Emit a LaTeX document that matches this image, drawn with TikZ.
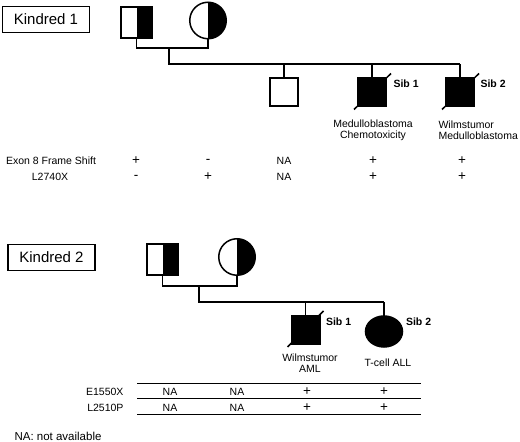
\documentclass[tikz,border=0pt]{standalone}
\usepackage{fontspec}
\setmainfont{Liberation Sans}
\usetikzlibrary{positioning, shapes.geometric, calc}

\begin{document}
\begin{tikzpicture}[x=1pt, y=1pt, every node/.style={font=\fontsize{10.5}{11.5}\selectfont},
    kinbox/.style={draw, line width=1.5pt, minimum width=87pt, minimum height=26pt, inner sep=0pt, font=\fontsize{15}{17}\selectfont},
    parentsq/.style={draw, line width=2pt, minimum size=31pt, inner sep=0pt, outer sep=0pt},
    parentci/.style={draw, circle, line width=1.5pt, minimum size=36.5pt, inner sep=0pt, outer sep=0pt},
    childsq/.style={draw, line width=2pt, minimum size=28pt, inner sep=0pt, outer sep=0pt},
    childel/.style={draw, fill, ellipse, line width=1.5pt, minimum width=37pt, minimum height=31pt, inner sep=0pt, outer sep=0pt},
    pedline/.style={line width=1.3pt},
    slash/.style={line width=1.5pt},
    siblab/.style={anchor=west, font=\fontsize{10.5}{12}\selectfont\bfseries},
    sign/.style={font=\fontsize{13.5}{14}\selectfont},
    tabline/.style={line width=1pt}]
    \useasboundingbox (0,0) rectangle (520,442);

    % Kindred 1: parents
    \node[kinbox] (kin1) at (46,422.5) {Kindred 1};
    \node[parentsq] (fa1) at (136.5,419) {};
    \fill (fa1.north) rectangle (fa1.south east);
    \node[parentci] (mo1) at (208,421.5) {};
    \fill (mo1.south) arc[start angle=-90, end angle=90, radius=18.25pt] -- cycle;

    % Kindred 1: children
    \node[childsq] (ch1) at (284,349.5) {};
    \node[childsq, fill] (sb11) at (372,349.5) {};
    \node[childsq, fill] (sb12) at (460,349.5) {};
    \coordinate (mar1) at (169,394);
    \coordinate (sibl1) at (169,378);
    \draw[pedline] (fa1.south) |- (mar1) -| (mo1.south);
    \draw[pedline] (mar1) -- (sibl1) -- (sibl1 -| sb12.north);
    \foreach \c in {ch1, sb11, sb12}
        \draw[pedline] (\c.north) -- (\c.north |- sibl1);
    \foreach \c in {sb11, sb12}
        \draw[slash] ($(\c.center)+(-18,-17)$) -- ($(\c.center)+(19,19)$);
    \node[siblab] (lb11) at ($(sb11.east)+(4,8.5)$) {Sib 1};
    \node[siblab] (lb12) at ($(sb12.east)+(3,8.5)$) {Sib 2};
    \node[align=center] (dx11) at (373,311.5) {Medulloblastoma\\Chemotoxicity};
    \node[align=left, anchor=west] (dx12) at (435,311.5) {Wilmstumor\\Medulloblastoma};

    % Kindred 1: mutations
    \node (r1a) at (51,281) {Exon 8 Frame Shift};
    \node (r1b) at (50,265) {L2740X};
    \foreach \x/\a/\b [count=\i] in {136/+/-, 208/-/+, 373/+/+, 462/+/+} {
        \node[sign] (va\i) at (\x,281) {\a};
        \node[sign] (vb\i) at (\x,265) {\b};
    }
    \node (va0) at (284,281) {NA};
    \node (vb0) at (284,265) {NA};

    % Kindred 2: parents
    \node[kinbox] (kin2) at (51.5,184.5) {Kindred 2};
    \node[parentsq] (fa2) at (162.5,182.5) {};
    \fill (fa2.north) rectangle (fa2.south east);
    \node[parentci] (mo2) at (237,185) {};
    \fill (mo2.south) arc[start angle=-90, end angle=90, radius=18.25pt] -- cycle;

    % Kindred 2: children
    \node[childsq, fill] (sb21) at (305.5,112) {};
    \node[childel] (sb22) at (384,110.5) {};
    \coordinate (mar2) at (199,156);
    \coordinate (sibl2) at (199,140);
    \draw[pedline] (fa2.south) |- (mar2) -| (mo2.south);
    \draw[pedline] (mar2) -- (sibl2) -- (sibl2 -| sb22.north);
    \foreach \c in {sb21, sb22}
        \draw[pedline] (\c.north) -- (\c.north |- sibl2);
    \draw[slash] ($(sb21.center)+(-18,-17)$) -- ($(sb21.center)+(18,19)$);
    \node[siblab] (lb21) at ($(sb21.east)+(3,8)$) {Sib 1};
    \node[siblab] (lb22) at ($(sb22.east)+(0,9.5)$) {Sib 2};
    \node[align=center] (dx21) at (310,79) {Wilmstumor\\AML};
    \node (dx22) at (388,79) {T-cell ALL};

    % Kindred 2: mutation table
    \foreach \y [count=\i] in {58, 43, 27} {
        \coordinate (tw\i) at (137,\y);
        \coordinate (te\i) at (421,\y);
        \draw[tabline] (tw\i) -- (te\i);
    }
    \node[anchor=east] (r2a) at (127,50) {E1550X};
    \node[anchor=east] (r2b) at (127,34) {L2510P};
    \foreach \x [count=\i] in {170, 237} {
        \node (wa\i) at (\x,50) {NA};
        \node (wb\i) at (\x,34) {NA};
    }
    \foreach \x [count=\i from 3] in {307, 384} {
        \node[sign] (wa\i) at (\x,50) {+};
        \node[sign] (wb\i) at (\x,34) {+};
    }

    \node[anchor=west, font=\fontsize{11.5}{13}\selectfont] (note) at (11,6) {NA: not available};
\end{tikzpicture}
\end{document}
